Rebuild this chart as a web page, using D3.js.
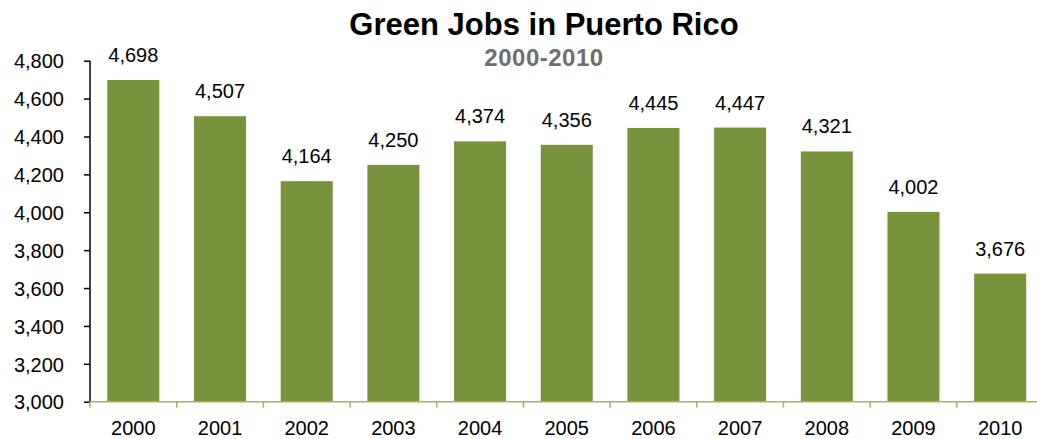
<!DOCTYPE html>
<html>
<head>
<meta charset="utf-8">
<script src="https://cdn.jsdelivr.net/npm/d3@7"></script>
<style>
  body { margin: 0; background: #fff; }
  svg { display: block; font-family: "Liberation Sans", Arial, sans-serif; }
</style>
</head>
<body>
<div id="chart"></div>
<script>
const years = ['2000', '2001', '2002', '2003', '2004', '2005', '2006', '2007', '2008', '2009', '2010'];
const jobs = [4698, 4507, 4164, 4250, 4374, 4356, 4445, 4447, 4321, 4002, 3676];
const yTicks = [3000, 3200, 3400, 3600, 3800, 4000, 4200, 4400, 4600, 4800];

const W = 1037, H = 439;
const margin = { top: 60.7, left: 90, bottom: 401.7, right: 1043.5 };

const svg = d3.select('#chart').append('svg')
  .attr('width', W).attr('height', H);

const x = d3.scaleBand()
  .domain(years)
  .range([margin.left, margin.right])
  .paddingInner(0.4)
  .paddingOuter(0.2);

const y = d3.scaleLinear()
  .domain([3000, 4800])
  .range([margin.bottom, margin.top]);

// 柱子
svg.selectAll('.bar')
  .data(years)
  .enter()
  .append('rect')
  .attr('class', 'bar')
  .attr('x', d => x(d))
  .attr('y', (d, i) => y(jobs[i]))
  .attr('width', x.bandwidth())
  .attr('height', (d, i) => y(3000) - y(jobs[i]))
  .attr('fill', '#77933c');

// 数值标签
svg.selectAll('.val')
  .data(years)
  .enter()
  .append('text')
  .attr('x', d => x(d) + x.bandwidth() / 2)
  .attr('y', (d, i) => y(jobs[i]) - 18)
  .attr('text-anchor', 'middle')
  .style('font-size', '20px')
  .style('fill', '#000')
  .text((d, i) => d3.format(',')(jobs[i]));

// y 轴
const yAxis = svg.append('g')
  .attr('transform', `translate(${margin.left},0)`)
  .call(d3.axisLeft(y).tickValues(yTicks).tickSize(6).tickPadding(20).tickFormat(d3.format(',')));
yAxis.select('.domain').attr('stroke', '#000').attr('stroke-width', 1.5)
  .attr('d', `M0,${margin.top}V${margin.bottom}`);
yAxis.selectAll('.tick line').attr('stroke', '#000').attr('stroke-width', 1.5);
yAxis.selectAll('.tick text').style('font-size', '20px').style('fill', '#000')
  .attr('dy', '0.36em');

// x 轴（分类边界刻度）
const step = x.step();
const bounds = d3.range(years.length + 1).map(i => margin.left + i * step);
svg.append('line')
  .attr('x1', margin.left).attr('x2', margin.right)
  .attr('y1', margin.bottom).attr('y2', margin.bottom)
  .attr('stroke', '#9bbb59').attr('stroke-width', 1.5);
svg.selectAll('.xtick')
  .data(bounds)
  .enter()
  .append('line')
  .attr('x1', d => d).attr('x2', d => d)
  .attr('y1', margin.bottom).attr('y2', margin.bottom + 6)
  .attr('stroke', '#9bbb59').attr('stroke-width', 1.5);
svg.selectAll('.xlabel')
  .data(years)
  .enter()
  .append('text')
  .attr('x', d => x(d) + x.bandwidth() / 2)
  .attr('y', margin.bottom + 33)
  .attr('text-anchor', 'middle')
  .style('font-size', '20px')
  .style('fill', '#000')
  .text(d => d);

// 标题
svg.append('text')
  .attr('x', 544).attr('y', 35)
  .attr('text-anchor', 'middle')
  .style('font-size', '31px').style('font-weight', 'bold').style('fill', '#000')
  .text('Green Jobs in Puerto Rico');
svg.append('text')
  .attr('x', 544).attr('y', 65.5)
  .attr('text-anchor', 'middle')
  .style('font-size', '24px').style('font-weight', 'bold').style('fill', '#6e6e6e')
  .style('letter-spacing', '0.5px')
  .text('2000-2010');
</script>
</body>
</html>
